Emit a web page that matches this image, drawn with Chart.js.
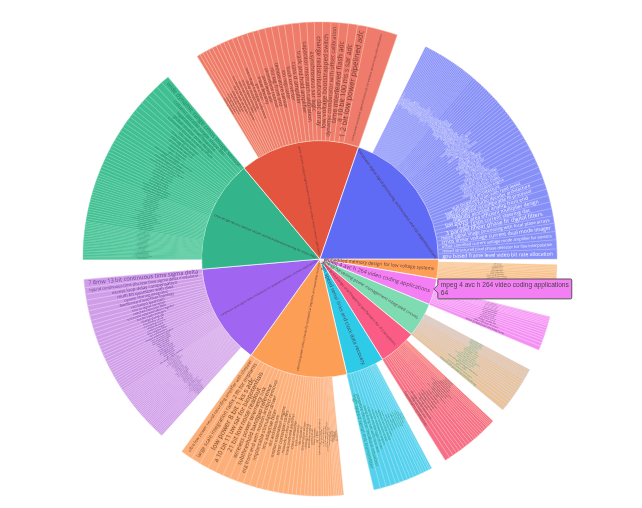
<!DOCTYPE html>
<html>
<head>
<meta charset="utf-8">
<script src="https://cdn.jsdelivr.net/npm/chart.js@4.4.1/dist/chart.umd.min.js"></script>
<style>
  html, body { margin: 0; padding: 0; background: #fff; }
  #wrap { width: 642px; height: 508px; }
</style>
</head>
<body>
<div id="wrap"><canvas id="sunburst" width="642" height="508"></canvas></div>
<script>
// inner ring, in plotly order (largest first, counter-clockwise from 3 o'clock)
const parentNames = [
  'low power digital signal processing architectures and vlsi implementations',
  'power efficient analog to digital converter design for wireless sensor network applications',
  'cmos image sensors readout circuits and focal plane processing for vision chips',
  'continuous time sigma delta modulators for wideband wireless receiver applications',
  'ultra low power cmos circuits for biomedical implants and wearable devices',
  'high speed serial links and clock data recovery',
  'phase locked loops and frequency synthesizers for rf transceivers',
  'energy harvesting power management integrated circuits',
  'mpeg 4 avc h 264 video coding applications',
  'embedded memory design for low voltage systems'
];
const parentValues = [352, 292, 273, 245, 242, 93, 92, 84, 64, 48];
const parentColors = ['#5f6bf4', '#e4553f', '#34b48a', '#a066f1', '#fd9e56',
                      '#2ecbe9', '#fb5c86', '#7fdcb2', '#f47ef4', '#fd9f57'];
const parentOrient = ['tangential', 'radial', 'radial', 'radial', 'radial',
                      'radial', 'radial', 'radial', 'radial', 'radial'];

// outer ring leaves per parent (largest first)
const blueLeaves = [12, 11, 10, 10, 9, 9, 8, 8, 8, 7, 7, 7, 7, 6, 6, 6, 6, 6, 5, 5, 5, 5, 5, 5,
  4, 4, 4, 4, 4, 4, 4, 4, 3, 3, 3, 3, 3, 3, 3, 3, 3, 3, 3, 3, 3, 3,
  2, 2, 2, 2, 2, 2, 2, 2, 2, 2, 2, 2, 2, 2, 2, 2, 2, 2, 2, 2, 2, 2, 2, 2, 2, 2, 2, 2, 2, 2, 2, 2, 2, 2];
const redLeaves = [37, 12, 11, 11, 10, 10, 10, 9, 9, 9, 9, 8, 8, 8, 8, 7, 7, 7, 6, 6, 6, 5, 5, 5, 5, 5, 4, 4, 4, 4];
const greenLeaves = [10, 8, 7, 7, 6, 6, 6, 6, 5, 5, 5, 5, 5, 5, 5,
  4, 4, 4, 4, 4, 4, 4, 4, 4, 4, 4, 4, 4,
  3, 3, 3, 3, 3, 3, 3, 3, 3, 3, 3, 3, 3, 3, 3, 3, 3, 3, 3, 3,
  2, 2, 2, 2, 2, 2, 2, 2, 2, 2, 2, 2, 2, 2, 2, 2, 2, 2, 2, 2, 2, 2, 2];
const purpleLeaves = [10, 8, 7, 7, 6, 6, 6, 5, 5, 5, 5, 5, 4, 4, 4, 4, 4, 4, 4,
  3, 3, 3, 3, 3, 3, 3, 3, 3, 3, 3, 3, 3,
  2, 2, 2, 2, 2, 2, 2, 2, 2, 2, 2, 2, 2, 2, 2, 2, 2, 2, 2, 2, 2, 2, 2, 2, 2, 2, 2, 2, 2, 2, 2, 2, 2, 2, 2, 2];
const orangeLeaves = [14, 12, 11, 10, 10, 9, 9, 8, 8, 8, 7, 7, 7, 6, 6, 6, 5, 5, 5, 5, 4, 4, 4, 4, 4, 3, 3, 3, 3, 3, 2, 2, 2, 2, 2, 2];
const cyanLeaves = [8, 7, 6, 6, 5, 5, 5, 4, 4, 4, 4, 3, 3, 3, 3, 2, 2];
const roseLeaves = [6, 5, 5, 4, 4, 4, 4, 4, 4, 3, 3, 3, 3, 3, 3, 3, 3, 2, 2, 2, 2, 2];
const mintLeaves = [5, 4, 4, 4, 3, 3, 3, 3, 3, 3, 3, 3, 3, 2, 2, 2, 2, 2, 2, 2];
const pinkLeaves = [5, 4, 4, 3, 3, 3, 3, 3, 3, 2, 2, 2, 2, 2, 1];
const peachLeaves = [5, 4, 4, 3, 3, 3, 3, 3, 3, 2, 2, 2, 2, 2];

const blueNames = ['gpu based frame level video bit rate allocation',
  'mixed structured pixel phase detector for fine interpolation',
  'offset cancelled current voltage mode amplifier for sensors',
  'cmos linear voltage current dual mode imager',
  'mixed signal image processing with focal plane arrays',
  '3 parallel linear phase fir digital filters',
  '12 bit 1gsps current steering dac',
  'low power area efficient multiplier design',
  'digitally assisted analog front end',
  'energy efficient reconfigurable fft processor',
  'high throughput turbo decoder architecture',
  'sub threshold sram with read assist'];
const redNames = ['a low power successive approximation adc for wireless sensor nodes with calibration',
  '1 2 bit low power pipelined adc', 'a 10 bit 100 ms s sar adc', 'time interleaved flash adc',
  'dynamic comparator with offset calibration', 'low voltage bootstrapped switch',
  'charge redistribution dac array', 'asynchronous sar logic', 'capacitor mismatch calibration'];
const greenNames = ['wide dynamic range cmos image sensor', 'column parallel single slope adc',
  'logarithmic pixel response', 'global shutter pixel design', 'correlated double sampling circuit'];
const purpleNames = ['7 8mw 13 bit continuous time sigma delta', 'hybrid continuous time discrete time sigma delta modulator',
  'excess loop delay compensation', 'multi bit quantizer with dwa', 'opamp sharing integrator',
  'feedforward loop filter topology', 'vco based quantizer'];
const orangeNames = ['ultra low power neural recording amplifier with chopper', 'large scale integration radix 2 fft for implants',
  'low power 8 bit 1 ks s adc', 'a 10 bit 11 uw sar for biopotentials', '21 bit low noise readout', 'wireless power telemetry link',
  'subthreshold bandgap reference', 'ecg front end with motion artifact removal', 'implantable stimulator driver'];
const cyanNames = ['high speed serial link transmitter', 'adaptive decision feedback equalizer', 'bang bang cdr with fast lock',
  'current mode logic driver'];
const roseNames = ['fractional n synthesizer', 'ring oscillator vco', 'charge pump mismatch'];
const mintNames = ['maximum power point tracking', 'boost converter cold start'];
const pinkNames = ['intra prediction architecture', 'cabac entropy decoder'];
const peachNames = ['8t sram bitcell', 'sense amplifier design'];

const minorTopics = ['low voltage bandgap reference', 'delay locked loop', 'time to digital converter',
  'switched capacitor filter', 'successive approximation register', 'lna for uwb receivers', 'charge pump pll',
  'level shifter circuit', 'clock gating scheme', 'viterbi decoder', 'cordic processor', 'lms adaptive filter',
  'dct architecture', 'motion estimation engine', 'error correction codes', 'network on chip router',
  'track and hold amplifier', 'class d amplifier', 'buck converter', 'ldo regulator', 'temperature sensor',
  'rfid tag front end', 'photodiode readout', 'pixel level adc', 'mixer linearity', 'gm c filter'];

const leafValues = [blueLeaves, redLeaves, greenLeaves, purpleLeaves, orangeLeaves,
                    cyanLeaves, roseLeaves, mintLeaves, pinkLeaves, peachLeaves];
const leafNames = [blueNames, redNames, greenNames, purpleNames, orangeNames,
                   cyanNames, roseNames, mintNames, pinkNames, peachNames];
const leafColors = ['#8790f7', '#ee7b6c', '#40bf93', '#d09ee8', '#fdaf7a',
                    '#55d1ee', '#f66d8d', '#ecc395', '#f490f4', '#f8c28d'];
const leafLines = ['#adb3fb', '#f5b897', '#74d4ae', '#e3c3f1', '#fdc9a6',
                   '#8fe0f3', '#f8b08c', '#d5d0e2', '#f9bff9', '#fbd5ae'];
const leafTextColors = ['rgba(255,255,255,0.92)', '#6e3d37', '#27876a', '#6a3f95', '#6f4d33',
                        '#2f9a74', '#66524a', '#4daf7c', '#72497a', '#7b5f47'];

// Chart.js goes clockwise, plotly went counter-clockwise: walk everything backwards
const innerData = [], innerBg = [], innerNames = [], innerOrient = [];
const outerData = [], outerBg = [], outerLine = [], outerBW = [], outerNames = [], outerTextCol = [];
let pinkIndex = 0;
for (let p = parentNames.length - 1; p >= 0; p--) {
  if (p === 8) pinkIndex = innerData.length;
  innerData.push(parentValues[p]);
  innerBg.push(parentColors[p]);
  innerNames.push(parentNames[p]);
  innerOrient.push(parentOrient[p]);

  const vals = leafValues[p];
  const rest = parentValues[p] - vals.reduce((a, b) => a + b, 0);
  outerData.push(rest);
  outerBg.push('rgba(0,0,0,0)');
  outerLine.push('rgba(0,0,0,0)');
  outerBW.push(0);
  outerNames.push('');
  outerTextCol.push('#000');
  for (let j = vals.length - 1; j >= 0; j--) {
    outerData.push(vals[j]);
    outerBg.push(leafColors[p]);
    outerLine.push(leafLines[p]);
    outerBW.push(0.5);
    outerNames.push(leafNames[p][j] || minorTopics[(p * 7 + j) % minorTopics.length]);
    outerTextCol.push(leafTextColors[p]);
  }
}

// text written inside each sector, radial or tangential, shrunk to fit
const sectorText = {
  id: 'sectorText',
  afterDatasetsDraw(chart) {
    const ctx = chart.ctx;
    chart.data.datasets.forEach((ds, di) => {
      const meta = chart.getDatasetMeta(di);
      meta.data.forEach((arc, i) => {
        const txt = ds.names[i];
        if (!txt) return;
        const { x, y, startAngle, endAngle, innerRadius, outerRadius } = arc;
        const span = endAngle - startAngle;
        const mid = (startAngle + endAngle) / 2;
        const orient = ds.orient ? ds.orient[i] : 'radial';
        ctx.save();
        ctx.font = '10px "Open Sans"';
        const w10 = ctx.measureText(txt).width;
        let f, r, rot;
        if (orient === 'tangential') {
          r = innerRadius + (outerRadius - innerRadius) * 0.8;
          const chord = 2 * Math.sqrt(outerRadius * outerRadius - r * r) - 8;
          f = Math.min(10 * chord / w10, 12);
          rot = mid + Math.PI / 2;
        } else {
          r = (innerRadius + outerRadius) / 2;
          const len = outerRadius - innerRadius - 8;
          f = Math.min(10 * len / w10, span * r, 12);
          rot = mid;
        }
        if (f < 1.1) { ctx.restore(); return; }
        while (rot > Math.PI / 2) rot -= Math.PI;
        while (rot <= -Math.PI / 2) rot += Math.PI;
        ctx.translate(x + Math.cos(mid) * r, y + Math.sin(mid) * r);
        ctx.rotate(rot);
        ctx.font = f.toFixed(2) + 'px "Open Sans"';
        ctx.fillStyle = ds.textColors[i];
        ctx.textAlign = 'center';
        ctx.textBaseline = 'middle';
        ctx.fillText(txt, 0, 0);
        ctx.restore();
      });
    });
  }
};

Chart.Tooltip.positioners.sectorEdge = function (items) {
  if (!items.length) return false;
  const el = items[0].element;
  const mid = (el.startAngle + el.endAngle) / 2;
  return { x: el.x + Math.cos(mid) * el.outerRadius, y: el.y + Math.sin(mid) * el.outerRadius - 3 };
};

const chart = new Chart(document.getElementById('sunburst'), {
  type: 'doughnut',
  data: {
    labels: outerNames,
    datasets: [
      {
        data: outerData,
        names: outerNames,
        textColors: outerTextCol,
        backgroundColor: outerBg,
        hoverBackgroundColor: outerBg,
        borderColor: outerLine,
        hoverBorderColor: outerLine,
        borderWidth: outerBW,
      },
      {
        data: innerData,
        names: innerNames,
        orient: innerOrient,
        textColors: innerNames.map(() => 'rgba(70,45,60,0.85)'),
        backgroundColor: innerBg,
        hoverBackgroundColor: innerBg,
        borderColor: 'rgba(255,255,255,0.85)',
        hoverBorderColor: 'rgba(255,255,255,0.85)',
        borderWidth: 0.8,
      },
    ],
  },
  options: {
    responsive: false,
    animation: false,
    events: [],
    rotation: 90,
    cutout: 0,
    radius: 237,
    layout: { padding: { top: 22, bottom: 12, left: 0, right: 2 } },
    plugins: {
      legend: { display: false },
      tooltip: {
        position: 'sectorEdge',
        xAlign: 'left',
        yAlign: 'center',
        backgroundColor: '#f47ef4',
        borderColor: '#555',
        borderWidth: 1,
        titleColor: '#444',
        bodyColor: '#444',
        titleFont: { family: 'Liberation Sans', size: 6.6, weight: 'normal', lineHeight: 1.2 },
        bodyFont: { family: 'Liberation Sans', size: 6.6, lineHeight: 1.2 },
        titleMarginBottom: 0,
        padding: { x: 3, y: 2 },
        caretSize: 4,
        caretPadding: 0,
        cornerRadius: 1,
        displayColors: false,
        callbacks: {
          title: (items) => items[0].dataset.names[items[0].dataIndex],
          label: (item) => String(item.raw),
        },
      },
    },
  },
  plugins: [sectorText],
});

chart.tooltip.setActiveElements([{ datasetIndex: 1, index: pinkIndex }], { x: 0, y: 0 });
chart.update();
</script>
</body>
</html>
